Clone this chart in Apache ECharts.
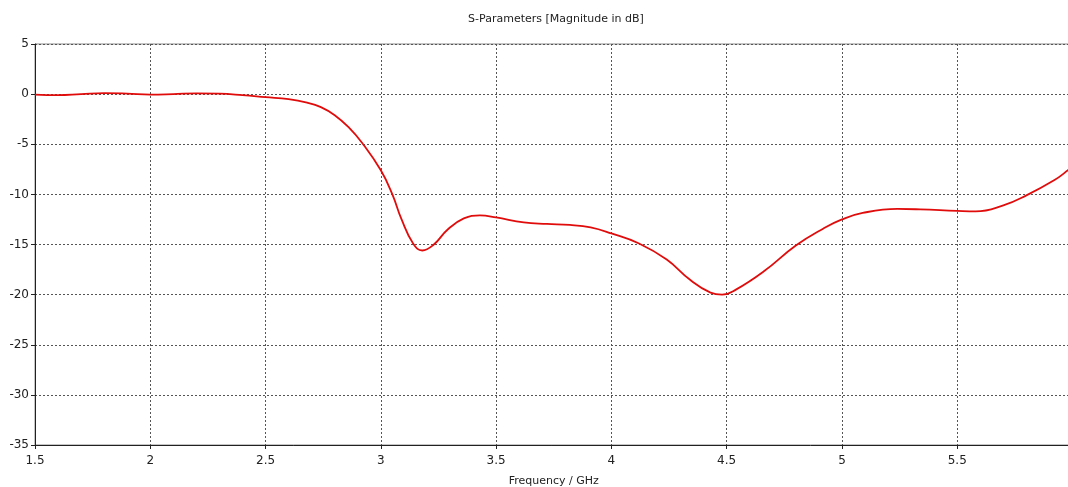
<!DOCTYPE html>
<html>
<head>
<meta charset="utf-8">
<script src="https://cdn.jsdelivr.net/npm/echarts@6/dist/echarts.min.js"></script>
<style>
  html, body { margin: 0; padding: 0; background: #fff; overflow: hidden; }
  #chart { width: 1068px; height: 487px; }
</style>
</head>
<body>
<div id="chart"></div>
<script>
// Frequency sweep (GHz) and reflection magnitude (dB)
const freqGHz = [1.5, 1.6, 1.7, 1.8, 1.9, 2.0, 2.1, 2.2, 2.3, 2.4, 2.5, 2.6, 2.68, 2.74, 2.8, 2.86, 2.92, 3.0, 3.05, 3.09, 3.14, 3.18, 3.23, 3.29, 3.36, 3.43, 3.5, 3.62, 3.72, 3.82, 3.91, 4.0, 4.12, 4.24, 4.34, 4.43, 4.48, 4.54, 4.66, 4.8, 4.92, 5.0, 5.09, 5.24, 5.34, 5.5, 5.58, 5.7, 5.8, 5.92, 5.98, 6.0];
const magDB = [-0.05, -0.1, 0.0, 0.1, 0.05, -0.05, 0.0, 0.08, 0.05, -0.1, -0.3, -0.5, -0.85, -1.3, -2.1, -3.3, -4.9, -7.6, -10.0, -12.5, -14.9, -15.6, -15.0, -13.5, -12.4, -12.1, -12.3, -12.8, -12.95, -13.05, -13.3, -13.9, -14.9, -16.5, -18.5, -19.8, -20.0, -19.5, -17.7, -15.1, -13.4, -12.5, -11.85, -11.45, -11.5, -11.65, -11.7, -11.1, -10.1, -8.6, -7.6, -7.2];

const chartTitle = 'S-Parameters [Magnitude in dB]';
const xTitle = 'Frequency / GHz';

const points = freqGHz.map((f, i) => [f, magDB[i]]);
const font = 'DejaVu Sans, Verdana, sans-serif';
const gridLine = { show: true, lineStyle: { color: '#555', width: 1, type: [2, 2] } };

const chart = echarts.init(document.getElementById('chart'), null, { renderer: 'canvas' });
chart.setOption({
  animation: false,
  backgroundColor: '#fff',
  title: {
    text: chartTitle,
    left: 551, top: 9, textAlign: 'center',
    textStyle: { fontFamily: font, fontSize: 11, fontWeight: 'normal', color: '#222' }
  },
  grid: {
    left: 35, top: 44, width: 1037.5, height: 401,
    outerBoundsMode: 'none', containLabel: false,
    show: true, borderColor: '#8a8a8a', borderWidth: 1, backgroundColor: 'transparent'
  },
  xAxis: {
    type: 'value', min: 1.5, max: 6, interval: 0.5,
    name: xTitle, nameLocation: 'middle', nameGap: 31,
    nameTextStyle: { fontFamily: font, fontSize: 11, color: '#222' },
    axisLine: { show: true, onZero: false, lineStyle: { color: '#222', width: 1 } },
    axisTick: { show: true, length: 4, lineStyle: { color: '#222' } },
    axisLabel: { fontFamily: font, fontSize: 12, color: '#222', margin: 10,
      formatter: v => String(v) },
    splitLine: gridLine
  },
  yAxis: {
    type: 'value', min: -35, max: 5, interval: 5,
    axisLine: { show: true, onZero: false, lineStyle: { color: '#222', width: 1 } },
    axisTick: { show: true, length: 4, lineStyle: { color: '#222' } },
    axisLabel: { fontFamily: font, fontSize: 12, color: '#222', margin: 6 },
    splitLine: gridLine
  },
  series: [{
    type: 'line',
    data: points,
    smooth: 0.45,
    showSymbol: false,
    clip: true,
    lineStyle: { color: '#e00c0c', width: 1.8 }
  }]
});
</script>
</body>
</html>
